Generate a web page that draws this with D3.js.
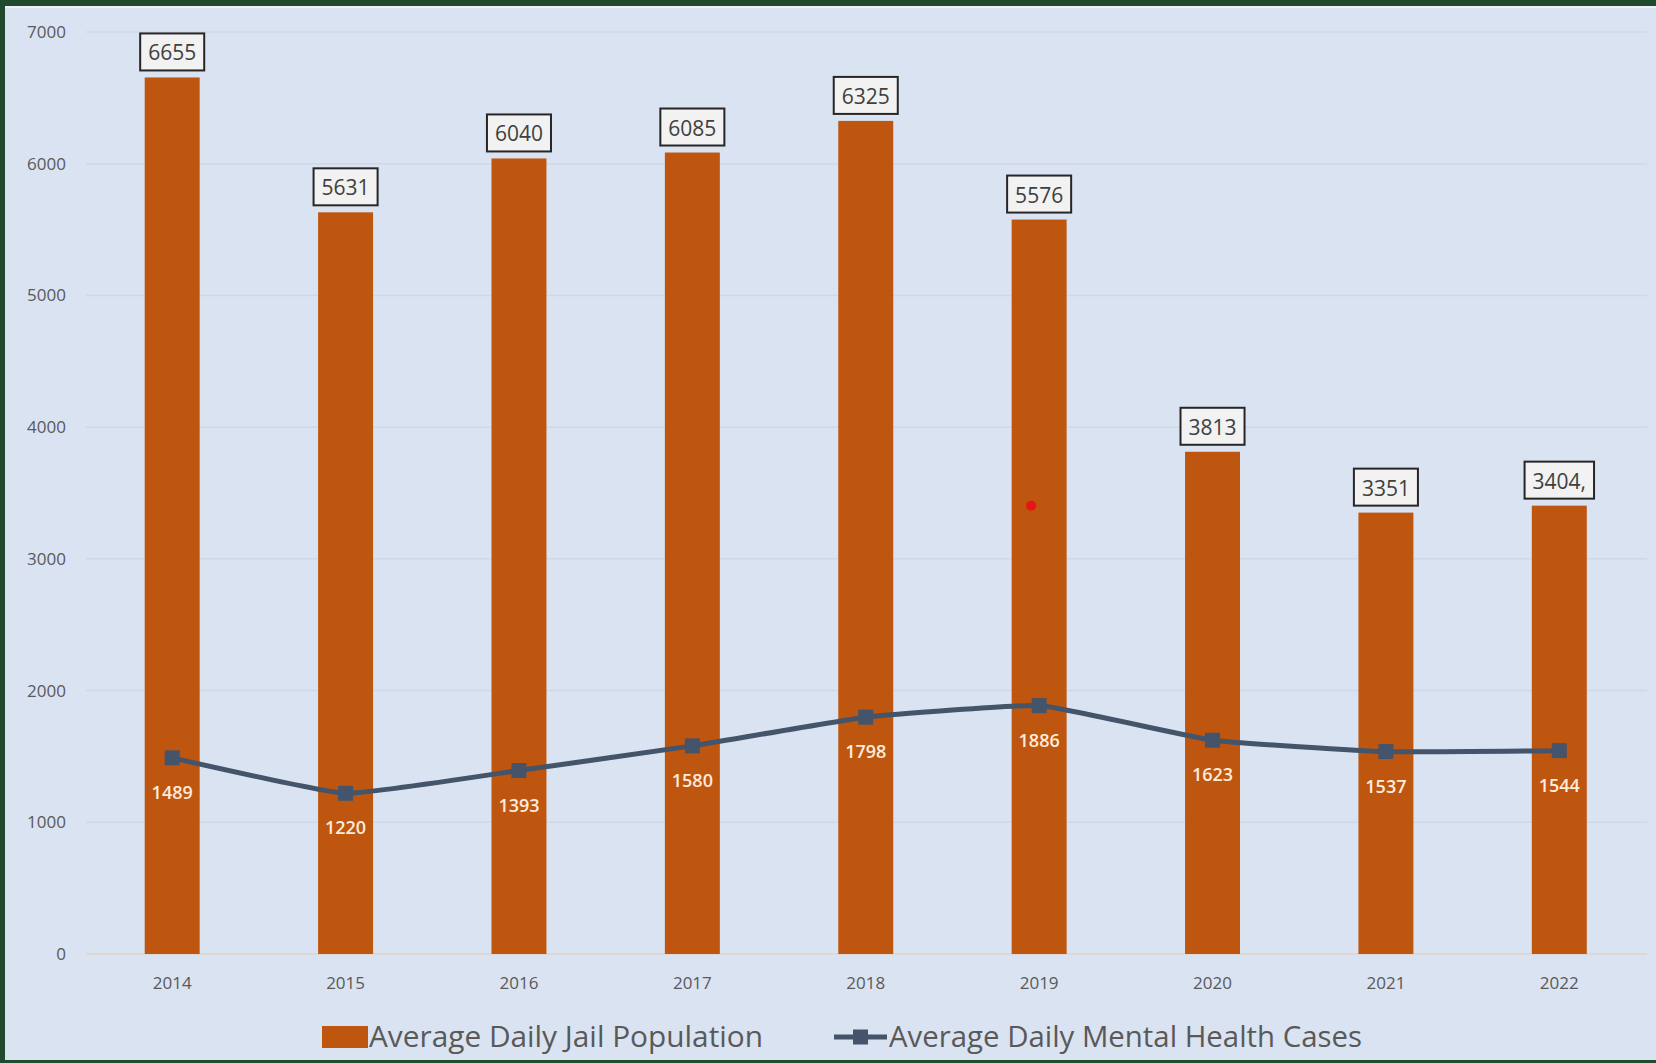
<!DOCTYPE html>
<html>
<head>
<meta charset="utf-8">
<script src="https://cdn.jsdelivr.net/npm/d3@7"></script>
<style>
  html, body { margin: 0; padding: 0; background: #dae3f1; }
  svg { display: block; }
</style>
</head>
<body>
<div id="chart"></div>
<script>
// chart data
const years = ["2014", "2015", "2016", "2017", "2018", "2019", "2020", "2021", "2022"];
const jailPop = [6655, 5631, 6040, 6085, 6325, 5576, 3813, 3351, 3404];
const jailLabels = ["6655", "5631", "6040", "6085", "6325", "5576", "3813", "3351", "3404,"];
const mentalCases = [1489, 1220, 1393, 1580, 1798, 1886, 1623, 1537, 1544];
const yTicks = [0, 1000, 2000, 3000, 4000, 5000, 6000, 7000];
const seriesNames = ["Average Daily Jail Population", "Average Daily Mental Health Cases"];

const WIDTH = 1656;
const HEIGHT = 1063;
const barColor = "#bf560f";
const lineColor = "#44546a";
const textGray = "#595959";

const svg = d3.select("#chart")
  .append("svg")
  .attr("width", WIDTH)
  .attr("height", HEIGHT);

// background + frame
svg.append("rect").attr("width", WIDTH).attr("height", HEIGHT).attr("fill", "#dae3f1");
svg.append("rect").attr("x", 0).attr("y", 0).attr("width", WIDTH).attr("height", 6).attr("fill", "#1f4a2d");
svg.append("rect").attr("x", 0).attr("y", 6).attr("width", WIDTH).attr("height", 2).attr("fill", "#eef2f8");
svg.append("rect").attr("x", 0).attr("y", 0).attr("width", 5).attr("height", HEIGHT).attr("fill", "#1f4a2d");
svg.append("rect").attr("x", 0).attr("y", HEIGHT - 3).attr("width", WIDTH).attr("height", 3).attr("fill", "#1f4a2d");

const x = d3.scaleBand()
  .domain(years)
  .range([85.5, 1646])
  .paddingInner(0.683)
  .paddingOuter(0.3415);

const y = d3.scaleLinear()
  .domain([0, 7000])
  .range([954, 32]);

// gridlines
svg.append("g")
  .selectAll("line")
  .data(yTicks)
  .join("line")
  .attr("x1", 86)
  .attr("x2", 1647)
  .attr("y1", (d) => y(d))
  .attr("y2", (d) => y(d))
  .attr("stroke", (d) => (d === 0 ? "#e2d2c8" : "#cfd8e6"))
  .attr("stroke-width", 1.5);

// y axis labels
const yAxis = svg.append("g")
  .attr("transform", "translate(66,0)")
  .call(d3.axisLeft(y).tickValues(yTicks).tickSize(0).tickPadding(0).tickFormat(d3.format("d")));
yAxis.select(".domain").remove();
yAxis.selectAll("text")
  .attr("fill", textGray)
  .style("font-family", "'Open Sans', sans-serif")
  .style("font-size", "17px");

// x axis labels
const xAxis = svg.append("g")
  .attr("transform", "translate(0,976)")
  .call(d3.axisBottom(x).tickSize(0).tickPadding(0));
xAxis.select(".domain").remove();
xAxis.selectAll("text")
  .attr("fill", textGray)
  .attr("dy", "0.75em")
  .style("font-family", "'Open Sans', sans-serif")
  .style("font-size", "17px");

// bars
svg.append("g")
  .selectAll("rect")
  .data(jailPop)
  .join("rect")
  .attr("x", (d, i) => x(years[i]))
  .attr("y", (d) => y(d))
  .attr("width", x.bandwidth())
  .attr("height", (d) => y(0) - y(d))
  .attr("fill", barColor);

// bar value labels in boxes
const boxes = svg.append("g")
  .selectAll("g")
  .data(jailPop)
  .join("g")
  .attr("transform", (d, i) => `translate(${x(years[i]) + x.bandwidth() / 2},${y(d) - 6})`);

const boxText = boxes.append("text")
  .attr("text-anchor", "middle")
  .attr("y", -11)
  .attr("fill", "#404040")
  .style("font-family", "'Open Sans', sans-serif")
  .style("font-size", "21px")
  .text((d, i) => jailLabels[i]);

boxes.insert("rect", "text")
  .attr("x", function (d, i) {
    const w = boxText.nodes()[i].getComputedTextLength() + 16;
    return -w / 2;
  })
  .attr("y", -38)
  .attr("width", (d, i) => boxText.nodes()[i].getComputedTextLength() + 16)
  .attr("height", 37)
  .attr("fill", "#f2f2f2")
  .attr("stroke", "#262626")
  .attr("stroke-width", 2);

// mental health line
const cx = (i) => x(years[i]) + x.bandwidth() / 2;
const line = d3.line()
  .x((d, i) => cx(i))
  .y((d) => y(d))
  .curve(d3.curveCardinal.tension(0.65));

svg.append("path")
  .datum(mentalCases)
  .attr("d", line)
  .attr("fill", "none")
  .attr("stroke", lineColor)
  .attr("stroke-width", 5);

svg.append("g")
  .selectAll("rect")
  .data(mentalCases)
  .join("rect")
  .attr("x", (d, i) => cx(i) - 7.5)
  .attr("y", (d) => y(d) - 7.5)
  .attr("width", 15)
  .attr("height", 15)
  .attr("fill", lineColor);

svg.append("g")
  .selectAll("text")
  .data(mentalCases)
  .join("text")
  .attr("x", (d, i) => cx(i))
  .attr("y", (d) => y(d) + 41)
  .attr("text-anchor", "middle")
  .attr("fill", "#fdebdc")
  .style("font-family", "'Open Sans', sans-serif")
  .style("font-size", "18px")
  .style("font-weight", "600")
  .text((d) => d);

// stray red dot in the original
svg.append("circle")
  .attr("cx", cx(5) - 8)
  .attr("cy", y(jailPop[8]))
  .attr("r", 5)
  .attr("fill", "#e8141a");

// legend
const legend = svg.append("g").attr("transform", "translate(0,1037)");
legend.append("rect")
  .attr("x", 322).attr("y", -11).attr("width", 46).attr("height", 22)
  .attr("fill", barColor);
legend.append("text")
  .attr("x", 369).attr("y", 10)
  .attr("textLength", 394)
  .attr("lengthAdjust", "spacingAndGlyphs")
  .attr("fill", textGray)
  .style("font-family", "'Open Sans', sans-serif")
  .style("font-size", "29px")
  .text(seriesNames[0]);
legend.append("line")
  .attr("x1", 834).attr("x2", 887).attr("y1", 0).attr("y2", 0)
  .attr("stroke", lineColor).attr("stroke-width", 5);
legend.append("rect")
  .attr("x", 853).attr("y", -7.5).attr("width", 15).attr("height", 15)
  .attr("fill", lineColor);
legend.append("text")
  .attr("x", 889).attr("y", 10)
  .attr("textLength", 473)
  .attr("lengthAdjust", "spacingAndGlyphs")
  .attr("fill", textGray)
  .style("font-family", "'Open Sans', sans-serif")
  .style("font-size", "29px")
  .text(seriesNames[1]);
</script>
</body>
</html>
